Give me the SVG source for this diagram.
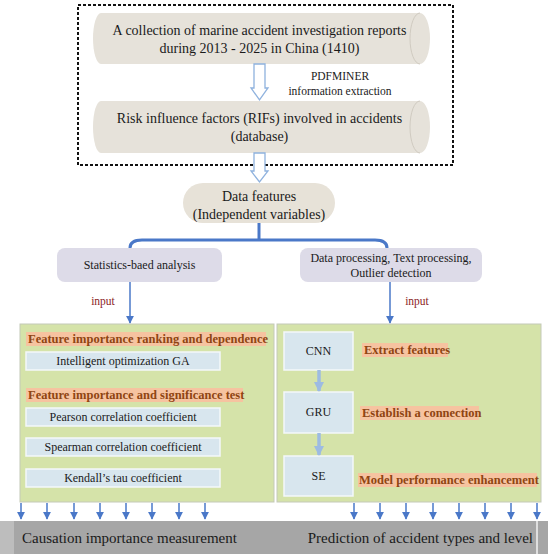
<svg xmlns="http://www.w3.org/2000/svg" width="550" height="559" viewBox="0 0 550 559">
<style>
text{font-family:"Liberation Serif","Times New Roman",serif;fill:#1a1a1a}
.cyl{fill:#e6e2da}
.face{fill:none;stroke:#d0cbc1;stroke-width:1}
.hollow{fill:#ffffff;stroke:#8fb2de;stroke-width:1.3}
.lav{fill:#dddbe8}
.green{fill:#d5e3a9;stroke:#c4c9b8;stroke-width:1}
.bluebox{fill:#d8e6ee;stroke:#f4f8fa;stroke-width:1.5}
.hl{fill:#f6c3a0}
.head{font-weight:bold;font-size:12.5px;fill:#8f4512}
.t12{font-size:12px}
.input{font-size:11.5px;fill:#8b1e1e}
.bar{font-size:15px}
.conn{fill:none;stroke:#4a78c8}
</style>
<defs>
<marker id="ah" viewBox="0 0 10 10" refX="9" refY="5" markerWidth="4" markerHeight="4" orient="auto" markerUnits="strokeWidth">
<path d="M0,0 L10,5 L0,10 z" fill="#4a78c8"/>
</marker>
<marker id="ahs" viewBox="0 0 10 10" refX="9" refY="5" markerWidth="5.5" markerHeight="5.5" orient="auto" markerUnits="strokeWidth">
<path d="M0,0 L10,5 L0,10 z" fill="#4a78c8"/>
</marker>
<marker id="ahl" viewBox="0 0 10 10" refX="9" refY="5" markerWidth="3" markerHeight="3" orient="auto" markerUnits="strokeWidth">
<path d="M0,0 L10,5 L0,10 z" fill="#9dbbe2"/>
</marker>
</defs>

<g id="dashed-frame">
<rect x="78" y="5" width="375" height="160" fill="none" stroke="#111" stroke-width="2" stroke-dasharray="3,2"/>
</g>

<g id="node-reports">
<path class="cyl" d="M101,13 L420,13 A10,25.5 0 0 1 420,64 L101,64 A8,25.5 0 0 1 101,13 z"/>
<path class="face" d="M420,13 A10,25.5 0 0 0 420,64"/>
<text x="259.5" y="35" font-size="14" text-anchor="middle">A collection of marine accident investigation reports</text>
<text x="259.5" y="53" font-size="14" text-anchor="middle">during 2013 - 2025 in China (1410)</text>
</g>

<g id="node-rifs">
<path class="cyl" d="M101,101 L420,101 A10,26 0 0 1 420,153 L101,153 A8,26 0 0 1 101,101 z"/>
<path class="face" d="M420,101 A10,26 0 0 0 420,153"/>
<text x="259.5" y="123" font-size="14" text-anchor="middle">Risk influence factors (RIFs) involved in accidents</text>
<text x="259.5" y="141" font-size="14" text-anchor="middle">(database)</text>
</g>

<g id="label-pdfminer">
<text x="340" y="80" font-size="11.5" text-anchor="middle">PDFMINER</text>
<text x="340" y="95" font-size="11.5" text-anchor="middle">information extraction</text>
</g>

<g id="node-datafeatures">
<rect x="183" y="183" width="152" height="40" rx="20" fill="#e7e2d8"/>
<text x="259" y="201" font-size="14" text-anchor="middle">Data features</text>
<text x="259" y="219" font-size="14" text-anchor="middle">(Independent variables)</text>
</g>

<g id="node-stats">
<rect class="lav" x="57" y="248" width="165" height="34" rx="8"/>
<text class="t12" x="139.5" y="269" text-anchor="middle">Statistics-baed analysis</text>
</g>

<g id="node-processing">
<rect class="lav" x="300" y="248" width="182" height="34" rx="8"/>
<text class="t12" x="391" y="262" text-anchor="middle">Data processing, Text processing,</text>
<text class="t12" x="391" y="277" text-anchor="middle">Outlier detection</text>
</g>

<g id="node-left-panel">
<rect class="green" x="20" y="324" width="254" height="178"/>
<rect class="hl" x="26" y="332" width="240" height="14"/>
<text class="head" x="28" y="343">Feature importance ranking and dependence</text>
<rect class="bluebox" x="26" y="352" width="194" height="18"/>
<text class="t12" x="123" y="365" text-anchor="middle">Intelligent optimization GA</text>
<rect class="hl" x="26" y="388" width="217" height="14"/>
<text class="head" x="28" y="399">Feature importance and significance test</text>
<rect class="bluebox" x="26" y="408" width="194" height="18"/>
<text class="t12" x="123" y="421" text-anchor="middle">Pearson correlation coefficient</text>
<rect class="bluebox" x="26" y="438" width="194" height="18"/>
<text class="t12" x="123" y="451" text-anchor="middle">Spearman correlation coefficient</text>
<rect class="bluebox" x="26" y="469" width="194" height="18"/>
<text class="t12" x="123" y="482" text-anchor="middle">Kendall’s tau coefficient</text>
</g>

<g id="node-right-panel">
<rect class="green" x="277" y="324" width="264" height="178"/>
<rect class="bluebox" x="284" y="332" width="69" height="38"/>
<text class="t12" x="318.5" y="355" text-anchor="middle">CNN</text>
<rect class="bluebox" x="284" y="392" width="69" height="41"/>
<text class="t12" x="318.5" y="416" text-anchor="middle">GRU</text>
<rect class="bluebox" x="284" y="456" width="69" height="40"/>
<text class="t12" x="318.5" y="480" text-anchor="middle">SE</text>
<rect class="hl" x="362" y="343" width="86" height="14"/>
<text class="head" x="364" y="354">Extract features</text>
<rect class="hl" x="360" y="406" width="119" height="14"/>
<text class="head" x="362" y="417">Establish a connection</text>
<rect class="hl" x="358" y="473" width="179" height="14"/>
<text class="head" x="359" y="484">Model performance enhancement</text>
</g>

<g id="node-output-bar">
<rect x="0" y="521" width="548" height="33" fill="#a6a6a6"/>
<rect x="0" y="521" width="14" height="33" fill="#bdbdbd"/>
<line x1="537" y1="521" x2="537" y2="554" stroke="#f2f2f2" stroke-width="1.5"/>
<text class="bar" x="22" y="543">Causation importance measurement</text>
<text class="bar" x="533" y="543" text-anchor="end">Prediction of accident types and level</text>
</g>

<g id="labels-input">
<text class="input" x="103" y="305" text-anchor="middle">input</text>
<text class="input" x="417" y="305" text-anchor="middle">input</text>
</g>

<g id="connectors">
<path class="hollow" d="M254,64 L265,64 L265,88 L268,88 L259.5,100 L251,88 L254,88 z"/>
<path class="hollow" d="M254,153 L265,153 L265,171 L268,171 L259.5,182 L251,171 L254,171 z"/>
<path class="conn" stroke-width="3" d="M259,223 L259,240"/>
<path class="conn" stroke-width="3" d="M130,248 Q130,240 142,240 L375,240 Q387,240 387,248"/>
<line class="conn" stroke-width="1.5" x1="130" y1="282" x2="130" y2="323" marker-end="url(#ahs)"/>
<line class="conn" stroke-width="1.5" x1="390" y1="282" x2="390" y2="323" marker-end="url(#ahs)"/>
<line stroke="#9dbbe2" stroke-width="3.5" x1="319" y1="370" x2="319" y2="391" marker-end="url(#ahl)"/>
<line stroke="#9dbbe2" stroke-width="3.5" x1="319" y1="433" x2="319" y2="455" marker-end="url(#ahl)"/>
<g class="conn" stroke-width="1.5">
<line x1="21" y1="503" x2="21" y2="519" marker-end="url(#ahs)"/>
<line x1="47" y1="503" x2="47" y2="519" marker-end="url(#ahs)"/>
<line x1="74" y1="503" x2="74" y2="519" marker-end="url(#ahs)"/>
<line x1="100" y1="503" x2="100" y2="519" marker-end="url(#ahs)"/>
<line x1="126" y1="503" x2="126" y2="519" marker-end="url(#ahs)"/>
<line x1="152" y1="503" x2="152" y2="519" marker-end="url(#ahs)"/>
<line x1="179" y1="503" x2="179" y2="519" marker-end="url(#ahs)"/>
<line x1="205" y1="503" x2="205" y2="519" marker-end="url(#ahs)"/>
<line x1="354" y1="503" x2="354" y2="519" marker-end="url(#ahs)"/>
<line x1="380" y1="503" x2="380" y2="519" marker-end="url(#ahs)"/>
<line x1="406" y1="503" x2="406" y2="519" marker-end="url(#ahs)"/>
<line x1="433" y1="503" x2="433" y2="519" marker-end="url(#ahs)"/>
<line x1="459" y1="503" x2="459" y2="519" marker-end="url(#ahs)"/>
<line x1="485" y1="503" x2="485" y2="519" marker-end="url(#ahs)"/>
<line x1="511" y1="503" x2="511" y2="519" marker-end="url(#ahs)"/>
<line x1="537" y1="503" x2="537" y2="519" marker-end="url(#ahs)"/>
</g>
</g>
</svg>
